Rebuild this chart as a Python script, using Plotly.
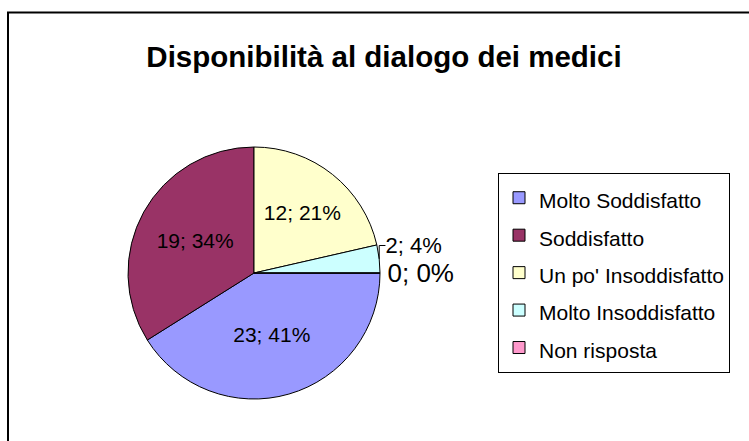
import plotly.graph_objects as go

categories = ["Molto Soddisfatto", "Soddisfatto", "Un po' Insoddisfatto",
              "Molto Insoddisfatto", "Non risposta"]
values = [23, 19, 12, 2, 0]
colors = ["#9999FF", "#993366", "#FFFFCC", "#CCFFFF", "#FF99CC"]
text_positions = ["inside", "inside", "inside", "outside", "outside"]
text_sizes = [21, 21, 21, 22, 26]
title_text = "Disponibilità al dialogo dei medici"

W, H = 749, 441
FONT = "Liberation Sans, Arial, sans-serif"

# legend entries rendered at 21px inside a taller legend line (wider row spacing)
legend_labels = [f"<span style='font-size:21px'>{c}</span>" for c in categories]

fig = go.Figure(go.Pie(
    labels=legend_labels,
    values=values,
    sort=False,
    direction="clockwise",
    rotation=90,
    marker=dict(colors=colors, line=dict(color="black", width=1)),
    texttemplate="%{value}; %{percent:.0%}",
    textposition=text_positions,
    insidetextorientation="horizontal",
    textfont=dict(family=FONT, size=text_sizes, color="black"),
    domain=dict(x=[128 / W, 380 / W], y=[42 / H, 294 / H]),
    showlegend=True,
    hoverinfo="label+value+percent",
))

fig.update_layout(
    width=W, height=H,
    margin=dict(l=0, r=0, t=0, b=0),
    paper_bgcolor="white",
    plot_bgcolor="white",
    font=dict(family=FONT, color="black"),
    title=dict(text=title_text, x=384 / W, xanchor="center",
               y=1 - 57 / H, yanchor="middle",
               font=dict(family=FONT, size=29.5, color="black", weight="bold")),
    legend=dict(x=498 / W, y=1 - 173 / H, xanchor="left", yanchor="top",
                bordercolor="black", borderwidth=1, bgcolor="white",
                font=dict(family=FONT, size=26.5, color="black"),
                traceorder="normal"),
    shapes=[dict(type="rect", xref="paper", yref="paper",
                 x0=8 / W, y0=1 - 12.5 / H, x1=1.05, y1=-0.05,
                 line=dict(color="black", width=2), fillcolor="rgba(0,0,0,0)")],
)

fig.write_html("out.html", config={"displayModeBar": False},
               post_script="document.body.style.margin='0';")
